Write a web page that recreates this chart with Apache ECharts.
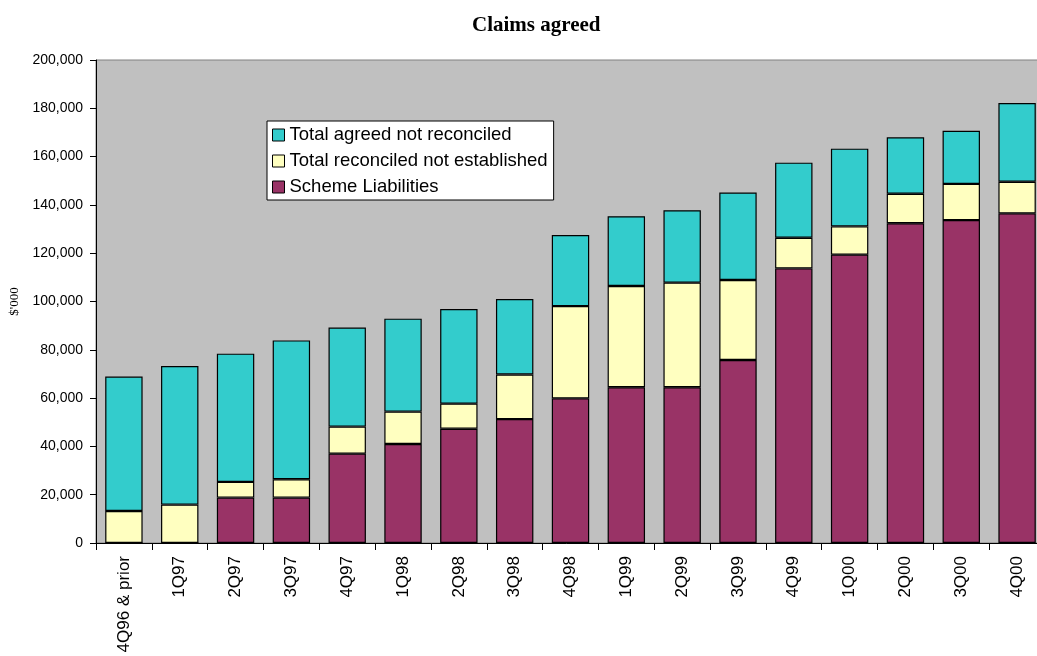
<!DOCTYPE html>
<html>
<head>
<meta charset="utf-8">
<script src="https://cdn.jsdelivr.net/npm/echarts@6/dist/echarts.min.js"></script>
<style>
html,body{margin:0;padding:0;background:#fff;}
#chart{width:1037px;height:656px;}
</style>
</head>
<body>
<div id="chart"></div>
<script>
const categories = ['4Q96 & prior','1Q97','2Q97','3Q97','4Q97','1Q98','2Q98','3Q98','4Q98','1Q99','2Q99','3Q99','4Q99','1Q00','2Q00','3Q00','4Q00'];
const schemeLiabilities = [0,0,18800,18800,37000,41000,47300,51300,59900,64500,64500,75800,113700,119400,132400,133700,136500];
const reconciledNotEstablished = [13250,15900,6500,7600,11200,13400,10400,18500,38200,41900,43300,33100,12700,11700,12200,15000,13100];
const agreedNotReconciled = [55650,57400,53100,57500,41000,38500,39200,31200,29400,28900,30000,36200,31100,32200,23400,22000,32600];
const yTicks = {min:0, max:200000, interval:20000};

const chart = echarts.init(document.getElementById('chart'));
const barBorder = {borderColor:'#000', borderWidth:1.2};
chart.setOption({
  animation:false,
  backgroundColor:'#fff',
  title:{
    text:'Claims agreed',
    left:472, top:15, padding:0,
    textStyle:{fontFamily:'Liberation Serif', fontWeight:'bold', fontSize:21, color:'#000'}
  },
  legend:{
    orient:'vertical',
    left:267, top:121,
    backgroundColor:'#fff',
    borderColor:'#000', borderWidth:1,
    padding:[4,6,3,5],
    itemWidth:12, itemHeight:12, itemGap:6,
    icon:'rect',
    itemStyle:{borderColor:'#000', borderWidth:1},
    textStyle:{fontFamily:'Liberation Sans', fontSize:18.5, color:'#000', lineHeight:20},
    data:['Total agreed not reconciled','Total reconciled not established','Scheme Liabilities']
  },
  grid:{
    left:96, top:60, width:949, height:483,
    outerBoundsMode:'none',
    show:true, backgroundColor:'#C0C0C0', borderColor:'#808080', borderWidth:1,
    containLabel:false
  },
  xAxis:{
    type:'category',
    data:categories,
    axisLine:{lineStyle:{color:'#000', width:1}},
    axisTick:{show:true, length:7, lineStyle:{color:'#000'}},
    axisLabel:{rotate:90, margin:13, fontFamily:'Liberation Sans', fontSize:17, color:'#000', interval:0}
  },
  yAxis:{
    type:'value',
    min:yTicks.min, max:yTicks.max, interval:yTicks.interval,
    name:"$'000",
    nameLocation:'middle',
    nameRotate:90,
    nameGap:73,
    nameTextStyle:{fontFamily:'Liberation Serif', fontSize:13, color:'#000'},
    axisLine:{show:true, lineStyle:{color:'#000', width:1}},
    axisTick:{show:true, length:6, lineStyle:{color:'#000'}},
    splitLine:{show:false},
    axisLabel:{margin:13, fontFamily:'Liberation Sans', fontSize:14, color:'#000',
      formatter:v=>v.toLocaleString('en-US')}
  },
  series:[
    {name:'Scheme Liabilities', type:'bar', stack:'t', data:schemeLiabilities, barWidth:'67%',
      itemStyle:Object.assign({color:'#993366'}, barBorder)},
    {name:'Total reconciled not established', type:'bar', stack:'t', data:reconciledNotEstablished, barWidth:'67%',
      itemStyle:Object.assign({color:'#FFFFC0'}, barBorder)},
    {name:'Total agreed not reconciled', type:'bar', stack:'t', data:agreedNotReconciled, barWidth:'67%',
      itemStyle:Object.assign({color:'#33CCCC'}, barBorder)}
  ]
});
</script>
</body>
</html>
